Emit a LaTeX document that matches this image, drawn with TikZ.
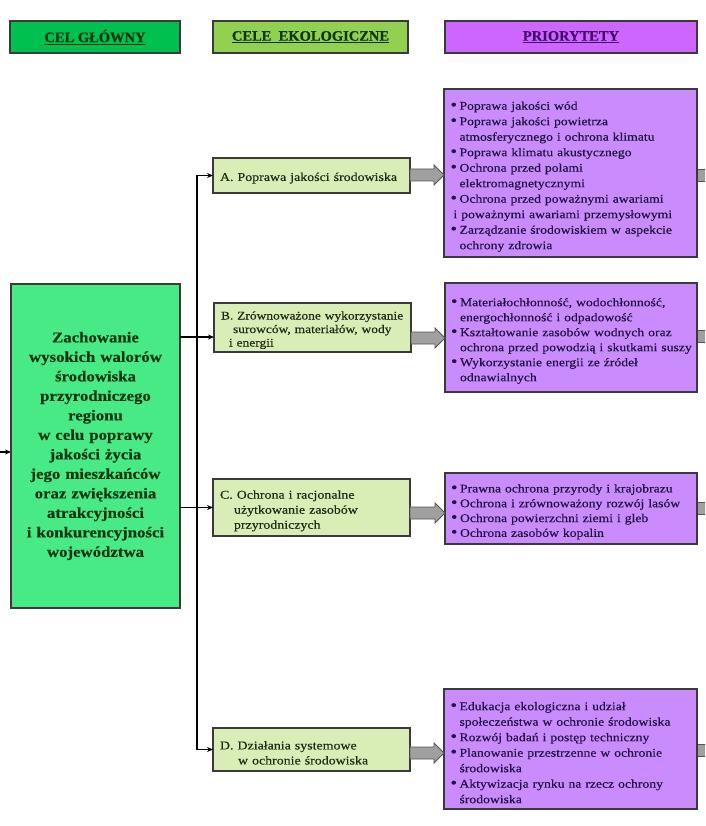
\documentclass[tikz,border=0pt]{standalone}
\usepackage{fontspec}
\setmainfont{Liberation Serif}
\newfontfamily\boxfont{Liberation Serif}[FakeStretch=1.16,FakeBold=0.3]
\newfontfamily\goalfont{Liberation Serif}[FakeStretch=1.12,FakeBold=0.3]
\newfontfamily\hdrfont{Liberation Serif}[FakeBold=0.3]
\usetikzlibrary{arrows.meta,calc}
\setlength{\parskip}{0pt}
\definecolor{hdrone}{RGB}{0,192,80}
\definecolor{hdrtwo}{RGB}{146,208,80}
\definecolor{hdrthree}{RGB}{204,102,255}
\definecolor{goalfill}{RGB}{72,234,134}
\definecolor{subfill}{RGB}{216,238,182}
\definecolor{prifill}{RGB}{202,140,252}
\definecolor{bordc}{RGB}{58,58,58}
\definecolor{fatfill}{RGB}{160,160,160}
\definecolor{fatline}{RGB}{85,85,85}
\definecolor{greentext}{RGB}{14,52,18}
\definecolor{subtext}{RGB}{32,40,22}
\definecolor{pritext}{RGB}{30,18,66}
\definecolor{hdrthreetext}{RGB}{66,10,104}
\newcommand\bl[1]{\par\noindent\makebox[9pt][l]{\raisebox{-0.2pt}{\scalebox{1.35}{\textbullet}}}\mbox{#1}}
\newcommand\cl[2][9pt]{\par\noindent\hspace*{#1}\mbox{#2}}
\newcommand\fatarr[3]{\coordinate (fy#1) at (0,#3);
  \draw[fat] ($(#1.east|-fy#1)+(0,-6)$) -- ($(#2.west|-fy#1)+(-10,-6)$) -- ++(0,-4)
    -- (#2.west|-fy#1) -- ++(-10,10) -- ++(0,-4) -- ($(#1.east|-fy#1)+(0,6)$) -- cycle;}
\newcommand\stub[2]{\coordinate (sy#1) at (0,#2);
  \fill[fatfill] ($(#1.east|-sy#1)+(0.6,-6)$) rectangle ($(#1.east|-sy#1)+(20,6)$);
  \draw[fatline, line width=0.8pt] ($(#1.east|-sy#1)+(0.6,-6)$) -- ($(#1.east|-sy#1)+(20,-6)$)
    ($(#1.east|-sy#1)+(0.6,6)$) -- ($(#1.east|-sy#1)+(20,6)$);}
\begin{document}
\begin{tikzpicture}[x=1pt,y=-1pt,
  box/.style={draw=bordc, line width=1.3pt, anchor=north west, outer sep=0pt},
  hdr/.style={box, inner sep=0pt, font=\hdrfont\fontsize{14.5}{16}\selectfont\bfseries, text=greentext},
  goal/.style={box, fill=goalfill, inner sep=0pt, text width=165pt, align=center, text=greentext,
    font=\goalfont\bfseries\fontsize{15}{19.5}\selectfont},
  sub/.style={box, fill=subfill, inner xsep=7pt, inner ysep=0pt, text width=183pt, text=subtext,
    font=\boxfont\fontsize{12}{13.5}\selectfont},
  pri/.style={box, fill=prifill, inner xsep=6pt, inner ysep=0pt, text width=240pt, text=pritext,
    font=\boxfont\fontsize{11.8}{15.5}\selectfont},
  conn/.style={draw=black, line width=1.1pt, -{Stealth[length=6pt,width=5pt]}},
  fat/.style={fill=fatfill, draw=fatline, line width=0.8pt, line join=miter}
]
\path[use as bounding box] (0,0) rectangle (705,826);
\clip (0,0) rectangle (705,826);
\fill[white] (0,0) rectangle (705,826);

% headers
\node[hdr, fill=hdrone, minimum width=170pt, minimum height=32pt] (h1) at (10,21) {\underline{CEL GŁÓWNY}};
\node[hdr, fill=hdrtwo, minimum width=195pt, minimum height=32pt] (h2) at (213,21) {\underline{CELE\ \ EKOLOGICZNE}};
\node[hdr, fill=hdrthree, minimum width=252pt, minimum height=32pt, text=hdrthreetext] (h3) at (445,21) {\underline{PRIORYTETY}};

% main goal
\node[goal, minimum width=169pt, minimum height=324pt] (main) at (11,284)
  {Zachowanie\\wysokich walorów\\środowiska\\przyrodniczego\\regionu\\w celu poprawy\\jakości życia\\jego mieszkańców\\oraz zwiększenia\\atrakcyjności\\i konkurencyjności\\województwa};

% ecological goals
\node[sub, minimum width=197pt, minimum height=35pt] (A) at (213,158)
  {\cl[0pt]{A. Poprawa jakości środowiska}};
\node[sub, minimum width=197pt, minimum height=49pt, font=\boxfont\fontsize{11.6}{13.5}\selectfont] (B) at (214,303)
  {\cl[0pt]{B. Zrównoważone wykorzystanie}\cl[12pt]{surowców, materiałów, wody}\cl[8pt]{i energii}};
\node[sub, minimum width=197pt, minimum height=57pt, font=\boxfont\fontsize{12}{15}\selectfont] (C) at (213,479)
  {\cl[0pt]{C. Ochrona i racjonalne}\cl[14pt]{użytkowanie zasobów}\cl[14pt]{przyrodniczych}};
\node[sub, minimum width=197pt, minimum height=43pt, font=\boxfont\fontsize{12}{15}\selectfont] (D) at (213,728)
  {\cl[0pt]{D. Działania systemowe}\cl[18pt]{w ochronie środowiska}};

% priorities
\node[pri, minimum width=253pt, minimum height=168pt] (PA) at (444,89)
  {\bl{Poprawa jakości wód}\bl{Poprawa jakości powietrza}\cl{atmosferycznego i ochrona klimatu}%
   \bl{Poprawa klimatu akustycznego}\bl{Ochrona przed polami}\cl{elektromagnetycznymi}%
   \bl{Ochrona przed poważnymi awariami}\cl[3pt]{i poważnymi awariami przemysłowymi}%
   \bl{Zarządzanie środowiskiem w aspekcie}\cl{ochrony zdrowia}};
\node[pri, minimum width=252pt, minimum height=109pt, font=\boxfont\fontsize{11.8}{15}\selectfont] (PB) at (445,283)
  {\bl{Materiałochłonność, wodochłonność,}\cl{energochłonność i odpadowość}%
   \bl{Kształtowanie zasobów wodnych oraz}\cl{ochrona przed powodzią i skutkami suszy}%
   \bl{Wykorzystanie energii ze źródeł}\cl{odnawialnych}};
\node[pri, minimum width=252pt, minimum height=71pt, font=\boxfont\fontsize{11.8}{14.8}\selectfont] (PC) at (445,473)
  {\bl{Prawna ochrona przyrody i krajobrazu}\bl{Ochrona i zrównoważony rozwój lasów}%
   \bl{Ochrona powierzchni ziemi i gleb}\bl{Ochrona zasobów kopalin}};
\node[pri, minimum width=253pt, minimum height=120pt] (PD) at (444,689)
  {\bl{Edukacja ekologiczna i udział}\cl{społeczeństwa w ochronie środowiska}%
   \bl{Rozwój badań i postęp techniczny}\bl{Planowanie przestrzenne w ochronie}\cl{środowiska}%
   \bl{Aktywizacja rynku na rzecz ochrony}\cl{środowiska}};

% thin connectors
\coordinate (bus) at (197,0);
\coordinate (yB) at (0,337);
\coordinate (yin) at (0,452);
\draw[conn] (bus|-D.west) -- (bus|-A.west) -- (A.west);
\draw[conn] (bus|-A.west) -- (bus|-D.west) -- (D.west);
\draw[conn] (main.east|-yB) -- (B.west|-yB);
\draw[conn] (main.east|-C.west) -- (C.west);
\draw[conn] (yin) -- (main.west|-yin);

% fat arrows
\fatarr{A}{PA}{175}
\fatarr{B}{PB}{338}
\fatarr{C}{PC}{513}
\fatarr{D}{PD}{753}
\stub{PA}{175}
\stub{PB}{336}
\stub{PC}{508}
\stub{PD}{750}
\end{tikzpicture}
\end{document}
